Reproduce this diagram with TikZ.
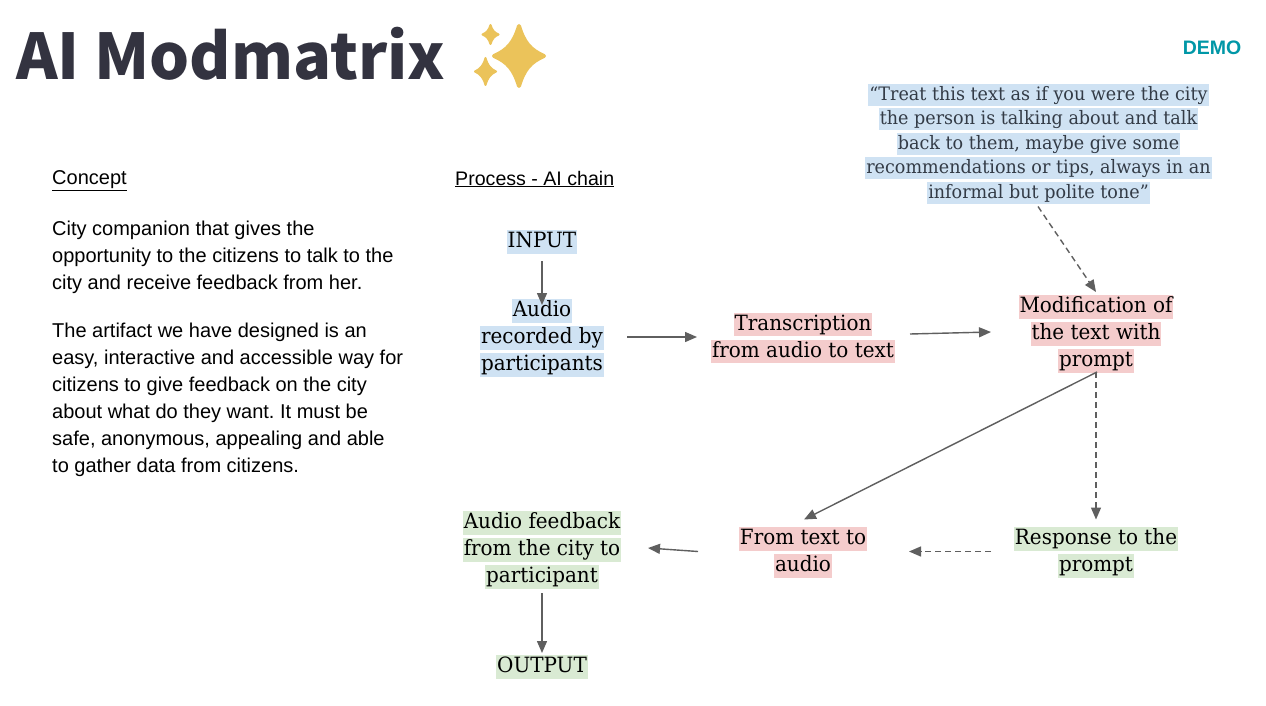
\documentclass[tikz,border=0pt]{standalone}
\usepackage{fontspec}
\usetikzlibrary{arrows.meta}
\setmainfont{Liberation Sans}
\newfontfamily\slabfont[FakeStretch=0.95]{DejaVu Serif}
\newfontfamily\titlefont{Noto Sans CJK SC}
\frenchspacing
\definecolor{hlblue}{HTML}{CFE2F3}
\definecolor{hlred}{HTML}{F4CCCC}
\definecolor{hlgreen}{HTML}{D9EAD3}
\definecolor{arrowgrey}{HTML}{5F5F5F}
\definecolor{titleink}{HTML}{333340}
\definecolor{demoteal}{HTML}{0097A7}
\definecolor{stargold}{HTML}{EBC35A}
\definecolor{quoteink}{HTML}{333B46}
\newcommand{\hlline}[2]{{\setlength{\fboxsep}{0pt}\colorbox{#1}{\hspace{1pt}\rule[-6pt]{0pt}{23.5pt}#2\hspace{1pt}}}}
\newcommand{\hlb}[1]{\hlline{hlblue}{#1}}
\newcommand{\hlr}[1]{\hlline{hlred}{#1}}
\newcommand{\hlg}[1]{\hlline{hlgreen}{#1}}
\newcommand{\hlq}[1]{{\setlength{\fboxsep}{0pt}\colorbox{hlblue}{\hspace{1pt}\rule[-5.5pt]{0pt}{22pt}#1\hspace{1pt}}}}
\newcommand{\sparkle}[5]{\filldraw[starcolor,line width=#5pt] (#1,#2-#4) .. controls (#1+0.2*#3,#2-0.45*#4) and (#1+0.45*#3,#2-0.2*#4) .. (#1+#3,#2) .. controls (#1+0.45*#3,#2+0.2*#4) and (#1+0.2*#3,#2+0.45*#4) .. (#1,#2+#4) .. controls (#1-0.2*#3,#2+0.45*#4) and (#1-0.45*#3,#2+0.2*#4) .. (#1-#3,#2) .. controls (#1-0.45*#3,#2-0.2*#4) and (#1-0.2*#3,#2-0.45*#4) .. cycle;}
\tikzset{
  starcolor/.style={fill=stargold,draw=stargold,line join=round},
  boxtext/.style={inner sep=0pt,align=center,font=\slabfont\fontsize{21pt}{27pt}\selectfont,text=black},
  quotetext/.style={inner sep=0pt,align=center,font=\slabfont\fontsize{18.5pt}{24.5pt}\selectfont,text=quoteink},
  bodytext/.style={inner sep=0pt,align=left,anchor=west,font=\fontsize{20pt}{27pt}\selectfont,text=black},
  flow/.style={draw=arrowgrey,line width=1.4pt,-{Triangle[length=12pt,width=10pt]}},
  flowdash/.style={flow,dash pattern=on 6pt off 4pt},
}
\begin{document}
\begin{tikzpicture}[x=1pt,y=-1pt]
\useasboundingbox (0,0) rectangle (1266,706);
\fill[white] (0,0) rectangle (1266,706);
\node[inner sep=0pt,anchor=base west,text=titleink,font=\titlefont\bfseries\fontsize{63pt}{63pt}\selectfont] (title) at (16,80) {AI Modmatrix};
\sparkle{519}{56}{25}{30}{4}
\sparkle{490.5}{34.5}{8}{9.5}{2}
\sparkle{485.5}{71.5}{10.5}{13.5}{2}
\node[inner sep=0pt,text=demoteal,font=\bfseries\fontsize{19.5pt}{19.5pt}\selectfont] (demo) at (1212,48) {DEMO};

\node[bodytext] (conhead) at (52,181) {\underline{Concept}};
\node[bodytext,font=\fontsize{19.6pt}{27pt}\selectfont] (procCap) at (455,179) {\underline{Process - AI chain}};
\node[bodytext] (con1) at (52,257) {City companion that gives the\\opportunity to the citizens to talk to the\\city and receive feedback from her.};
\node[bodytext] (con2) at (52,399.5) {The artifact we have designed is an\\easy, interactive and accessible way for\\citizens to give feedback on the city\\about what do they want. It must be\\safe, anonymous, appealing and able\\to gather data from citizens.};

\node[quotetext] (quote) at (1038.5,143.5) {\hlq{“Treat this text as if you were the city}\\\hlq{the person is talking about and talk}\\\hlq{back to them, maybe give some}\\\hlq{recommendations or tips, always in an}\\\hlq{informal but polite tone”}};
\node[boxtext] (input) at (542,242) {\hlb{INPUT}};
\node[boxtext] (audio) at (542,338) {\hlb{Audio}\\\hlb{recorded by}\\\hlb{participants}};
\node[boxtext] (trans) at (803,338) {\hlr{Transcription}\\\hlr{from audio to text}};
\node[boxtext] (modif) at (1096,334) {\hlr{Modification of}\\\hlr{the text with}\\\hlr{prompt}};
\node[boxtext] (fromt) at (803,552.5) {\hlr{From text to}\\\hlr{audio}};
\node[boxtext] (resp) at (1096,552.5) {\hlg{Response to the}\\\hlg{prompt}};
\node[boxtext] (feedb) at (542,550) {\hlg{Audio feedback}\\\hlg{from the city to}\\\hlg{participant}};
\node[boxtext] (output) at (542,667) {\hlg{OUTPUT}};

\draw[flow] ([shift={(0,19)}]input.center) -- ([shift={(0,-33)}]audio.center);
\draw[flow] ([shift={(85,-1)}]audio.center) -- ([shift={(-106,-1)}]trans.center);
\draw[flow] ([shift={(107,-4)}]trans.center) -- ([shift={(-105,-2)}]modif.center);
\draw[flowdash] ([shift={(-0.5,63)}]quote.center) -- ([shift={(0,-42)}]modif.center);
\draw[flow] ([shift={(1,38)}]modif.center) -- ([shift={(1,-33)}]fromt.center);
\draw[flowdash] ([shift={(0,38)}]modif.center) -- ([shift={(0,-33)}]resp.center);
\draw[flowdash] ([shift={(-105,-1)}]resp.center) -- ([shift={(106,-1)}]fromt.center);
\draw[flow] ([shift={(-105,-1)}]fromt.center) -- ([shift={(106,-2)}]feedb.center);
\draw[flow] ([shift={(0,43)}]feedb.center) -- ([shift={(0,-14)}]output.center);
\end{tikzpicture}
\end{document}
